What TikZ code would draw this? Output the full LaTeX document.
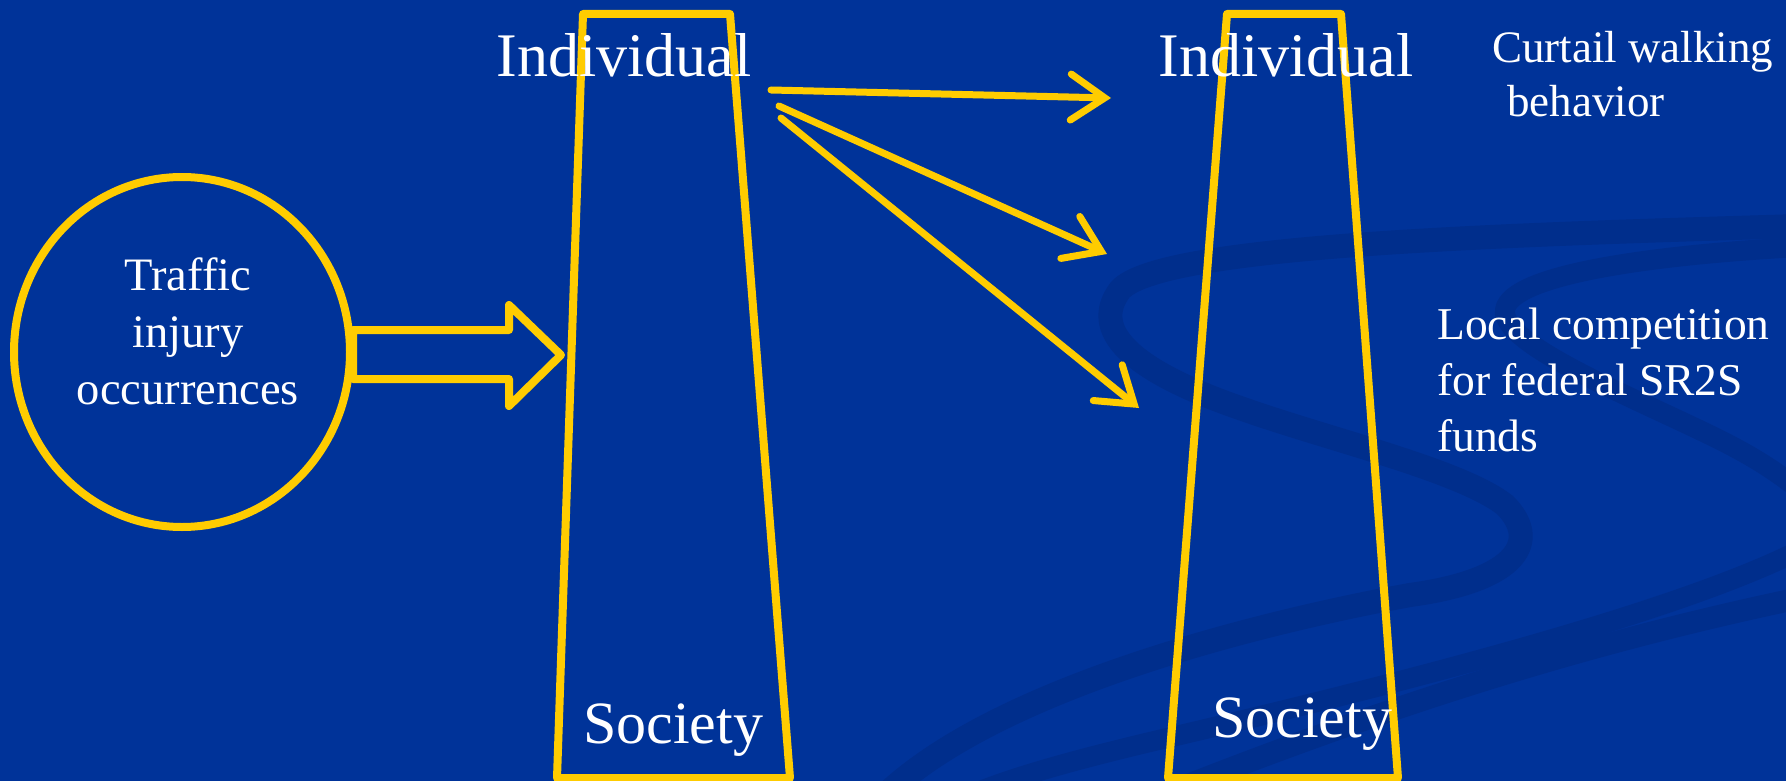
\documentclass[tikz,border=0pt]{standalone}
\usepackage{fontspec}
\setmainfont{Liberation Serif}
\usetikzlibrary{arrows.meta,shapes.geometric}
\definecolor{bg}{RGB}{0,51,153}
\definecolor{swoosh}{RGB}{0,46,140}
\definecolor{gold}{RGB}{255,204,0}
\tikzset{
  goldline/.style={draw=gold,line width=8pt,line join=round},
  goldarrow/.style={draw=gold,line width=7pt,line cap=round,-{Straight Barb[length=34pt,width=46pt,line cap=round]}},
  whitetext/.style={text=white,inner sep=0pt,font=#1},
  band/.style={draw=swoosh,line width=24pt,line cap=round}
}
\begin{document}
\begin{tikzpicture}[x=1pt,y=-1pt]
\fill[bg] (0,0) rectangle (1786,781);
\useasboundingbox (0,0) rectangle (1786,781);
% background swooshes
\draw[band] (1800,226) .. controls (1500,235) and (1160,245) .. (1120,290)
  .. controls (1090,330) and (1130,370) .. (1240,408)
  .. controls (1330,440) and (1460,470) .. (1505,505)
  .. controls (1540,540) and (1520,580) .. (1410,595)
  .. controls (1300,615) and (1000,680) .. (880,800);
\draw[band,line width=20pt] (1800,247) .. controls (1650,255) and (1510,275) .. (1505,310)
  .. controls (1500,345) and (1640,400) .. (1720,440)
  .. controls (1760,460) and (1780,475) .. (1800,490);
\draw[band,line width=20pt] (1800,550) .. controls (1700,600) and (1500,660) .. (1180,735)
  .. controls (1080,758) and (1000,780) .. (960,800);
\draw[band,line width=22pt] (1800,598) .. controls (1600,640) and (1400,700) .. (1150,800);
% circle
\node[goldline,ellipse,minimum width=336pt,minimum height=350pt,inner sep=0pt] (circ) at (182,352) {};
\node[whitetext={\fontsize{46.5}{57}\selectfont},align=center,anchor=base] (traffic) at (188,404) {Traffic\\injury\\occurrences};
% block arrow
\coordinate (ba1) at (353,330);
\coordinate (ba2) at (509,330);
\coordinate (ba3) at (509,305);
\coordinate (batip) at (561,355);
\coordinate (ba5) at (509,406);
\coordinate (ba6) at (509,379);
\coordinate (ba7) at (353,379);
\draw[goldline] (ba1) -- (ba2) -- (ba3) -- (batip) -- (ba5) -- (ba6) -- (ba7) -- cycle;
% trapezoids
\coordinate (t1a) at (583,14); \coordinate (t1b) at (730,14);
\coordinate (t1c) at (790,778); \coordinate (t1d) at (557,778);
\draw[goldline] (t1a) -- (t1b) -- (t1c) -- (t1d) -- cycle;
\coordinate (t2a) at (1227,14); \coordinate (t2b) at (1341,14);
\coordinate (t2c) at (1398,778); \coordinate (t2d) at (1168,778);
\draw[goldline] (t2a) -- (t2b) -- (t2c) -- (t2d) -- cycle;
% labels
\node[whitetext={\fontsize{62}{62}\selectfont},anchor=base] (ind1) at (624,77) {Individual};
\node[whitetext={\fontsize{62}{62}\selectfont},anchor=base] (ind2) at (1286,77) {Individual};
\node[whitetext={\fontsize{60}{60}\selectfont},anchor=base] (soc1) at (673,743) {Society};
\node[whitetext={\fontsize{60}{60}\selectfont},anchor=base] (soc2) at (1302,737) {Society};
\node[whitetext={\fontsize{45}{54}\selectfont},align=left,anchor=base west] (curt) at (1492,117) {Curtail walking\\\hspace*{15pt}behavior};
\node[whitetext={\fontsize{45.5}{56}\selectfont},align=left,anchor=base west] (local) at (1437,451) {Local competition\\for federal SR2S\\funds};
% arrows
\coordinate (s1) at (771,90); \coordinate (e1) at (1111,98);
\coordinate (s2) at (779,106); \coordinate (e2) at (1107,254);
\coordinate (s3) at (781,118); \coordinate (e3) at (1139,408);
\draw[goldarrow] (s1) -- (e1);
\draw[goldarrow] (s2) -- (e2);
\draw[goldarrow] (s3) -- (e3);
\end{tikzpicture}
\end{document}
